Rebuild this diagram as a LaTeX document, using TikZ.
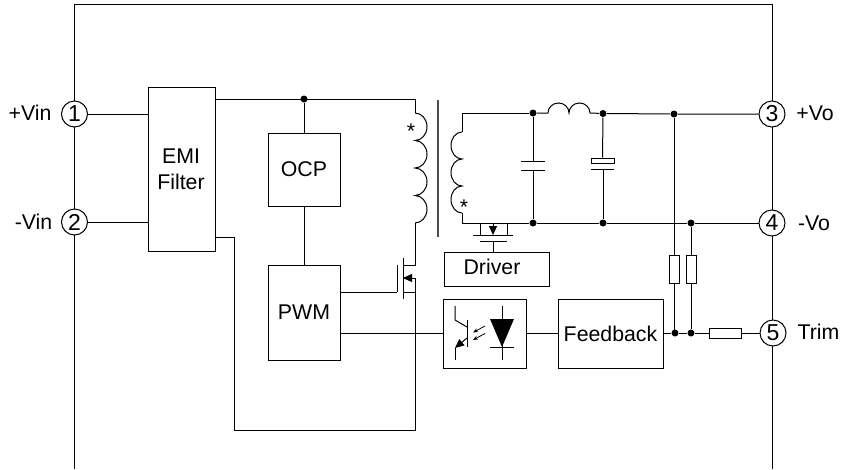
\documentclass[tikz,border=0pt]{standalone}
\usepackage{fontspec}
\setmainfont{Liberation Sans}
\usetikzlibrary{arrows.meta,calc}

\begin{document}
\begin{tikzpicture}[x=1pt, y=-1pt, line width=1pt, font=\fontsize{21.3}{25}\selectfont]
	 \tikzset{
	 	pin/.style={circle, draw, fill=white, minimum size=26pt, inner sep=0pt, font=\fontsize{23}{25}\selectfont},
	 	block/.style={rectangle, draw, inner sep=0pt},
	 	resistor/.style={rectangle, draw, fill=white, inner sep=0pt},
	 	dot/.style={circle, fill=black, minimum size=7pt, inner sep=0pt},
	 	solid tip/.style={-{Triangle[length=9pt, width=8pt]}},
	 	light tip/.style={-{Stealth[length=5pt, width=4pt]}, line width=0.8pt},
	 	coil right/.style args={#1:#2}{
	 		insert path={arc (-90:90:#1 and #2)}
	 	}
	 }
	 \useasboundingbox (0, 0) rectangle (841, 469);

	 % outline
	 \coordinate (frameLeft) at (74.5, 469);
	 \coordinate (frameTopL) at (74.5, 4);
	 \coordinate (frameTopR) at (772.5, 4);
	 \coordinate (frameRight) at (772.5, 469);
	 \draw (frameLeft) -- (frameTopL) -- (frameTopR) -- (frameRight);

	 % pins
	 \node[pin] (pin1) at (74.5, 114) {1};
	 \node[pin] (pin2) at (74.5, 222) {2};
	 \node[pin] (pin3) at (772, 114) {3};
	 \node[pin] (pin4) at (772, 223) {4};
	 \node[pin] (pin5) at (773, 333) {5};
	 \node (vinp) at (30, 113) {+Vin};
	 \node (vinn) at (33.5, 222) {-Vin};
	 \node (vop) at (815, 113) {+Vo};
	 \node (von) at (814, 223) {-Vo};
	 \node (trim) at (818.5, 332) {Trim};

	 % blocks
	 \node[block, minimum width=67pt, minimum height=164pt] (emi) at (181.5, 169) {};
	 \node (emitext) at (181, 156) {EMI};
	 \node (filtertext) at (181, 182) {Filter};
	 \node[block, minimum width=72pt, minimum height=73pt] (ocp) at (304, 169.5) {OCP};
	 \node[block, minimum width=72pt, minimum height=95pt] (pwm) at (304, 312.5) {PWM};
	 \node[block, minimum width=105pt, minimum height=34pt] (driver) at (496.5, 269) {};
	 \node (drivertext) at (492, 267) {Driver};
	 \node[block, minimum width=83pt, minimum height=69pt] (opto) at (484.5, 333.5) {};
	 \node[block, minimum width=105pt, minimum height=69pt] (feedback) at (610.5, 333.5) {Feedback};

	 % input side
	 \draw (pin1) -- (pin1 -| emi.west);
	 \draw (pin2) -- (pin2 -| emi.west);
	 \coordinate (priTop) at (415, 99);
	 \coordinate (priCoilA) at (415, 113);
	 \coordinate (priCoilB) at (415, 223);
	 \coordinate (returnA) at (415, 430);
	 \coordinate (returnB) at (234, 430);
	 \coordinate (returnC) at (234, 237);
	 \node[dot] (ocpDot) at (304, 99) {};
	 \draw (priTop -| emi.east) -- (priTop) -- (priCoilA);
	 \draw (priCoilA) [coil right=12:13.75] [coil right=12:13.75] [coil right=12:13.75] [coil right=12:13.75];
	 \draw (ocpDot) -- (ocp.north);
	 \draw (ocp.south) -- (pwm.north);
	 \draw (returnC -| emi.east) -- (returnC) -- (returnB) -- (returnA) -- (415, 278);

	 % primary switch
	 \coordinate (qDrain) at (415, 265);
	 \coordinate (qSource) at (415, 292);
	 \coordinate (qBody) at (415, 278);
	 \coordinate (qGate) at (397, 292);
	 \draw (priCoilB) -- (qDrain) -- (403, 265);
	 \draw (403, 258) -- (403, 299);
	 \draw (397, 265) -- (397, 292);
	 \draw (403, 292) -- (qSource);
	 \draw[solid tip] (qBody) -- (403, 278);
	 \draw (qGate -| pwm.east) -- (qGate);

	 % transformer core
	 \coordinate (coreTop) at (438, 100);
	 \coordinate (coreEnd) at (438, 237);
	 \draw[line width=1.2pt, black!70] (coreTop) -- (coreEnd);
	 \node (priStar) at (411, 131) {*};
	 \node (secStar) at (464, 207) {*};

	 % secondary side
	 \node[dot] (capTop) at (533, 113) {};
	 \node[dot] (capEnd) at (533, 223) {};
	 \node[dot] (cap2Top) at (603, 113.5) {};
	 \node[dot] (cap2End) at (603, 223) {};
	 \node[dot] (sense) at (674, 114) {};
	 \node[dot] (rtnDot) at (691, 223) {};
	 \node[dot] (fbA) at (675, 333) {};
	 \node[dot] (fbB) at (691, 333) {};
	 \coordinate (secA) at (462, 113);
	 \coordinate (secB) at (462, 132);
	 \coordinate (secC) at (462, 213);
	 \coordinate (secD) at (462, 223);
	 \draw (capTop) -- (secA) -- (secB);
	 \draw (secB) arc (-90:-270:11 and 13.5) arc (-90:-270:11 and 13.5) arc (-90:-270:11 and 13.5);
	 \draw (secC) -- (secD) -- (capEnd);
	 \coordinate (lA) at (548, 113);
	 \coordinate (lB) at (590, 113);
	 \draw (capTop) -- (lA) arc (180:360:10.5 and 10) arc (180:360:10.5 and 10) -- (cap2Top);
	 \draw (cap2Top) -- (sense) -- (pin3);
	 \draw (capEnd) -- (cap2End) -- (rtnDot) -- (pin4);

	 % secondary switch
	 \coordinate (dsL) at (480, 235);
	 \coordinate (dsR) at (507, 235);
	 \coordinate (gateTop) at (493, 241);
	 \draw (dsL |- secD) -- (dsL);
	 \draw (dsR |- secD) -- (dsR);
	 \draw (473, 235) -- (513, 235);
	 \draw (480, 241) -- (507, 241);
	 \draw (gateTop) -- (gateTop |- driver.north);
	 \draw[solid tip] (gateTop |- secD) -- (493, 235);

	 % output capacitors
	 \draw (capTop) -- (533, 161);
	 \draw (521, 161) -- (545, 161);
	 \draw (521, 170) -- (545, 170);
	 \draw (533, 170) -- (capEnd);
	 \node[resistor, minimum width=23pt, minimum height=5pt] (capBox) at (602.5, 160.5) {};
	 \draw (cap2Top) -- (capBox);
	 \draw (591, 169) -- (614, 169);
	 \draw (603, 169) -- (cap2End);

	 % sense resistors
	 \node[resistor, minimum width=10pt, minimum height=28pt] (rA) at (674, 269) {};
	 \node[resistor, minimum width=10pt, minimum height=28pt] (rB) at (691, 269) {};
	 \node[resistor, minimum width=32pt, minimum height=10pt] (rT) at (725, 333) {};
	 \draw (sense) -- (rA) -- (rA |- fbA);
	 \draw (rtnDot) -- (rB) -- (fbB);
	 \draw (feedback.east |- fbA) -- (fbA) -- (fbB) -- (rT) -- (pin5);

	 % isolation link
	 \draw (pwm.east |- opto.west) -- (opto.west);
	 \draw (opto.east) -- (feedback.west);
	 \fill (490, 319) -- (514, 319) -- (502, 347) -- cycle;
	 \draw (502, 306) -- (502, 360);
	 \draw (490, 347) -- (514, 347);
	 \draw (467, 320) -- (467, 347);
	 \draw (455, 306) -- (455, 320) -- (467, 327);
	 \draw (455, 360) -- (455, 348);
	 \draw[solid tip] (467, 338) -- (455, 348);
	 \foreach \y in {326, 333.5}
	 \draw[light tip] (485, \y) -- (473, \y + 6.5);
	 \end{tikzpicture}
\end{document}
